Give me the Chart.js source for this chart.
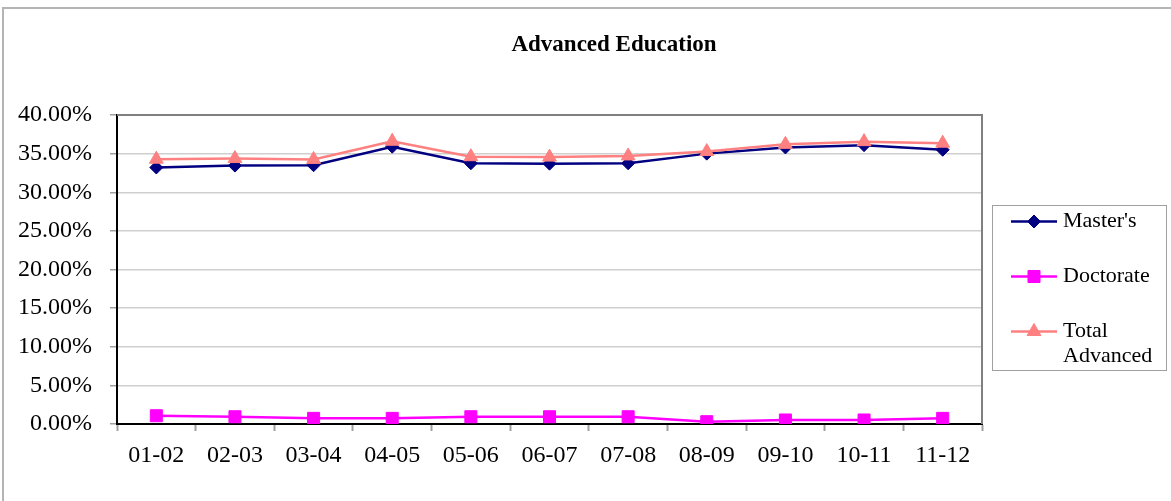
<!DOCTYPE html>
<html>
<head>
<meta charset="utf-8">
<script src="https://cdn.jsdelivr.net/npm/chart.js@4/dist/chart.umd.min.js"></script>
<style>
  html, body { margin: 0; padding: 0; background: #fff; }
  #wrap { width: 1171px; height: 501px; }
</style>
</head>
<body>
<div id="wrap"><canvas id="chart" width="1171" height="501"></canvas></div>
<script>
const title = 'Advanced Education';
const years = ['01-02', '02-03', '03-04', '04-05', '05-06', '06-07', '07-08', '08-09', '09-10', '10-11', '11-12'];
const masters = [33.2, 33.45, 33.5, 35.9, 33.75, 33.7, 33.75, 35.0, 35.8, 36.1, 35.5];
const doctorate = [1.07, 0.94, 0.73, 0.73, 0.94, 0.94, 0.94, 0.3, 0.52, 0.52, 0.73];
const totalAdvanced = [34.28, 34.36, 34.25, 36.6, 34.6, 34.55, 34.7, 35.27, 36.2, 36.55, 36.35];
const yTicks = [0, 5, 10, 15, 20, 25, 30, 35, 40];

const serif = '"Liberation Serif", "Times New Roman", serif';

// frame, title and boxed legend drawn straight onto the canvas
const decorations = {
  id: 'decorations',
  beforeDraw(chart) {
    const ctx = chart.ctx;
    ctx.save();
    ctx.strokeStyle = '#b4b4b4';
    ctx.lineWidth = 2;
    ctx.strokeRect(3, 8, chart.width + 10, chart.height + 10);
    ctx.restore();
  },
  afterDatasetsDraw(chart) {
    const ctx = chart.ctx;
    const a = chart.chartArea;
    ctx.save();
    ctx.strokeStyle = '#808080';
    ctx.lineWidth = 2;
    ctx.beginPath();
    ctx.moveTo(a.left, a.top);
    ctx.lineTo(a.right, a.top);
    ctx.lineTo(a.right, a.bottom);
    ctx.stroke();
    ctx.restore();
  },
  afterDraw(chart) {
    const ctx = chart.ctx;
    ctx.save();
    ctx.fillStyle = '#000';
    ctx.font = 'bold 23px ' + serif;
    ctx.textAlign = 'center';
    ctx.textBaseline = 'middle';
    ctx.fillText(title, 614, 45);

    // legend box
    const box = { x: 992, y: 205, w: 174, h: 165 };
    ctx.strokeStyle = '#a0a0a0';
    ctx.lineWidth = 1;
    ctx.strokeRect(box.x + 0.5, box.y + 0.5, box.w, box.h);

    ctx.font = '22px ' + serif;
    ctx.textAlign = 'left';
    const rows = [221.5, 276.5, 331.5];
    chart.data.datasets.forEach((ds, i) => {
      const y = rows[i];
      ctx.strokeStyle = ds.borderColor;
      ctx.lineWidth = ds.borderWidth;
      ctx.beginPath();
      ctx.moveTo(1011, y);
      ctx.lineTo(1057, y);
      ctx.stroke();
      ctx.fillStyle = ds.pointBackgroundColor;
      ctx.strokeStyle = ds.pointBorderColor;
      ctx.lineWidth = 1;
      Chart.helpers.drawPoint(ctx, {
        pointStyle: ds.pointStyle,
        radius: ds.pointRadius,
        rotation: 0,
        borderWidth: 1
      }, 1034, y);
      ctx.fillStyle = '#000';
      // wrap words that run past the box edge
      const words = ds.label.split(' ');
      let line = '';
      let ly = y;
      words.forEach(w => {
        const test = line ? line + ' ' + w : w;
        if (line && ctx.measureText(test).width > 96) {
          ctx.fillText(line, 1063, ly);
          line = w;
          ly += 25;
        } else {
          line = test;
        }
      });
      ctx.fillText(line, 1063, ly);
    });
    ctx.restore();
  }
};

new Chart(document.getElementById('chart'), {
  type: 'line',
  data: {
    labels: years,
    datasets: [{
      label: "Master's",
      data: masters,
      borderColor: '#000080',
      backgroundColor: '#000080',
      pointBackgroundColor: '#000080',
      pointBorderColor: '#000080',
      borderWidth: 2.5,
      pointStyle: 'rectRot',
      pointRadius: 6.5,
      pointBorderWidth: 1,
      tension: 0,
      order: 2
    }, {
      label: 'Doctorate',
      data: doctorate,
      borderColor: '#ff00ff',
      backgroundColor: '#ff00ff',
      pointBackgroundColor: '#ff00ff',
      pointBorderColor: '#ff00ff',
      borderWidth: 2.5,
      pointStyle: 'rect',
      pointRadius: 8.5,
      pointBorderWidth: 1,
      tension: 0,
      order: 1
    }, {
      label: 'Total Advanced',
      data: totalAdvanced,
      borderColor: '#ff8080',
      backgroundColor: '#ff8080',
      pointBackgroundColor: '#ff8080',
      pointBorderColor: '#ff8080',
      borderWidth: 2.5,
      pointStyle: 'triangle',
      pointRadius: 8,
      pointBorderWidth: 1,
      tension: 0,
      order: 0
    }]
  },
  options: {
    responsive: false,
    animation: false,
    events: [],
    layout: { padding: { top: 115, right: 189, left: 0, bottom: 0 } },
    plugins: {
      legend: { display: false },
      title: { display: false },
      tooltip: { enabled: false }
    },
    scales: {
      x: {
        offset: true,
        afterFit(scale) { scale.height = 77; },
        grid: {
          offset: true,
          drawOnChartArea: false,
          tickLength: 7,
          tickColor: '#a0a0a0',
          tickWidth: 2
        },
        border: { color: '#000', width: 2 },
        ticks: {
          color: '#000',
          padding: 10,
          maxRotation: 0,
          autoSkip: false,
          font: { family: serif, size: 24 }
        }
      },
      y: {
        min: 0,
        max: 40,
        afterFit(scale) { scale.width = 117; },
        afterBuildTicks(scale) { scale.ticks = yTicks.map(v => ({ value: v })); },
        grid: {
          color: '#cfcfcf',
          lineWidth: 1.5,
          tickLength: 7,
          tickColor: '#a0a0a0'
        },
        border: { color: '#000', width: 2 },
        ticks: {
          color: '#000',
          padding: 18,
          font: { family: serif, size: 24 },
          callback: v => v.toFixed(2) + '%'
        }
      }
    }
  },
  plugins: [decorations]
});
</script>
</body>
</html>
